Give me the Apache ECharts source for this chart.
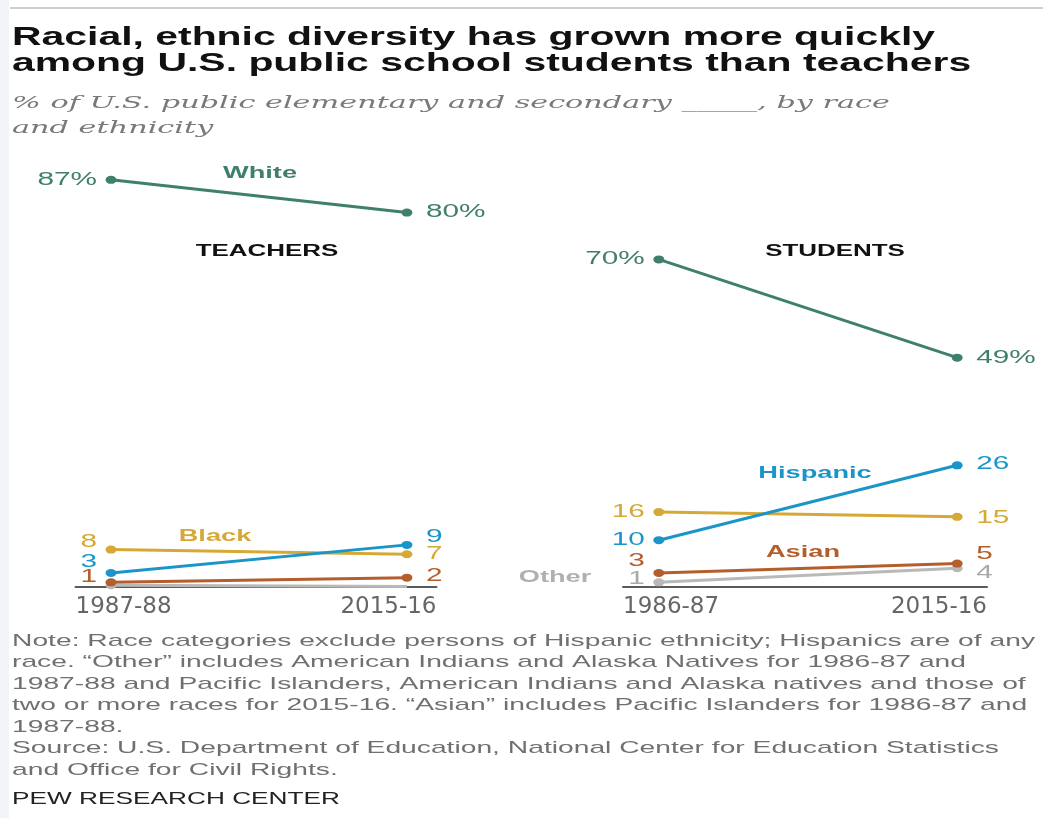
<!DOCTYPE html>
<html>
<head>
<meta charset="utf-8">
</head>
<body style="margin: 0; background: #fff">
<div id="container" style="width: 1043px; height: 818px"></div>
<script src="https://cdn.jsdelivr.net/npm/echarts@6/dist/echarts.min.js"></script>
<script>
// years on the two panels
var teacherYears = ['1987-88', '2015-16'];
var studentYears = ['1986-87', '2015-16'];
var groups = ['White', 'Black', 'Hispanic', 'Asian', 'Other'];

// % of teachers
var teacherWhite = [87, 80];
var teacherBlack = [8, 7];
var teacherHispanic = [3, 9];
var teacherAsian = [1, 2];
var teacherOther = [0.4, 0.1];

// % of students
var studentWhite = [70, 49];
var studentBlack = [16, 15];
var studentHispanic = [10, 26];
var studentAsian = [3, 5];
var studentOther = [1, 4];

var colors = {
  White: '#3f7f6d',
  Black: '#d6a936',
  Hispanic: '#1b95c9',
  Asian: '#b35e2c',
  Other: '#b9b9b9'
};

var chart = echarts.init(document.getElementById('container'));

// the reference is stretched horizontally, text gets scaled to match
var STRETCH = 1.7;
var measure = document.createElement('canvas').getContext('2d');
function fit(text, font, width) {
  measure.font = font;
  return width / measure.measureText(text).width;
}

function txt(text, x, y, font, color, scale, align) {
  return {
    type: 'text', x: x, y: y, scaleX: scale, silent: true,
    style: { text: text, font: font, fill: color, align: align || 'left', verticalAlign: 'middle' }
  };
}

var teacherData = { White: teacherWhite, Black: teacherBlack, Hispanic: teacherHispanic, Asian: teacherAsian, Other: teacherOther };
var studentData = { White: studentWhite, Black: studentBlack, Hispanic: studentHispanic, Asian: studentAsian, Other: studentOther };

// label nudges (px) where labels would collide
var teacherDy = [
  { Black: -7, Hispanic: -11, Asian: -5 },
  { Hispanic: -8, Black: 0, Asian: -1 }
];
var studentDy = [
  { Asian: -12, Other: -3 },
  { Hispanic: -1, Black: 1, Asian: -9, Other: 5 }
];

function buildLabels(data, dy, skip) {
  var out = [];
  groups.forEach(function (g) {
    if (skip.indexOf(g) >= 0) return;
    [0, 1].forEach(function (j) {
      var v = data[g][j];
      out.push({
        x: j, v: v,
        text: g === 'White' ? v + '%' : String(v),
        color: g === 'Other' ? '#a9a9a9' : colors[g],
        dy: dy[j][g] || 0
      });
    });
  });
  return out;
}

function lineSeries(gi, data) {
  // drawn bottom-up so Hispanic and White sit on top
  return ['Other', 'Asian', 'Black', 'Hispanic', 'White'].map(function (g) {
    var pts = [[0, data[g][0]], [1, data[g][1]]];
    if (gi === 0 && g === 'Other') pts[1] = { value: pts[1], symbol: 'none' };
    return {
      name: g, type: 'line', xAxisIndex: gi, yAxisIndex: gi,
      data: pts, symbol: 'circle', symbolSize: [11, 8],
      lineStyle: { width: 3, color: colors[g] },
      itemStyle: { color: colors[g] },
      silent: true, z: 3
    };
  });
}

function labelSeries(gi, items) {
  return {
    type: 'custom', xAxisIndex: gi, yAxisIndex: gi, clip: false, silent: true, z: 5,
    data: items.map(function (d) { return [d.x, d.v]; }),
    renderItem: function (params, api) {
      var d = items[params.dataIndex];
      var p = api.coord([api.value(0), api.value(1)]);
      var left = d.x === 0;
      return {
        type: 'text',
        x: p[0] + (left ? -14 : 19),
        y: p[1] + d.dy,
        scaleX: STRETCH,
        style: {
          text: d.text, fill: d.color, font: '17.5px "Liberation Sans"',
          align: left ? 'right' : 'left', verticalAlign: 'middle'
        }
      };
    }
  };
}

function xAxis(gi, years) {
  return {
    type: 'value', gridIndex: gi, min: -0.12, max: 1.1,
    splitLine: { show: false },
    axisTick: { show: false },
    axisLine: { show: true, lineStyle: { color: '#5a5a5a', width: 2 } },
    axisLabel: {
      customValues: [-0.12, 1.1],
      alignMinLabel: 'left', alignMaxLabel: 'right',
      formatter: function (v) { return v < 0.5 ? years[0] : years[1]; },
      fontFamily: 'DejaVu Sans', fontSize: 23, color: '#666', margin: 9
    }
  };
}

var titleFont = 'bold 25px "Liberation Sans"';
var titleScale = fit('Racial, ethnic diversity has grown more quickly', titleFont, 923);
var subFont = 'italic 17px "DejaVu Serif"';
var subScale = fit('% of U.S. public elementary and secondary _____, by race', subFont, 878);
var noteFont = '17px "Liberation Sans"';
var noteLines = [
  'Note: Race categories exclude persons of Hispanic ethnicity; Hispanics are of any',
  'race. \u201cOther\u201d includes American Indians and Alaska Natives for 1986-87 and',
  '1987-88 and Pacific Islanders, American Indians and Alaska natives and those of',
  'two or more races for 2015-16. \u201cAsian\u201d includes Pacific Islanders for 1986-87 and',
  '1987-88.',
  'Source: U.S. Department of Education, National Center for Education Statistics',
  'and Office for Civil Rights.'
];
var noteScale = fit(noteLines[0], noteFont, 1023);
var pewFont = '17px "Liberation Sans"';
var pewScale = fit('PEW RESEARCH CENTER', pewFont, 328);
var tagFont = 'bold 16px "Liberation Sans"';

var graphics = [
  { type: 'rect', shape: { x: 0, y: 0, width: 9, height: 818 }, style: { fill: '#f2f4f7' }, silent: true },
  { type: 'line', shape: { x1: 10, y1: 8, x2: 1043, y2: 8 }, style: { stroke: '#cfcfcf', lineWidth: 2 }, silent: true },
  txt('Racial, ethnic diversity has grown more quickly', 12, 38, titleFont, '#111', titleScale),
  txt('among U.S. public school students than teachers', 12, 64, titleFont, '#111', titleScale),
  txt('% of U.S. public elementary and secondary _____, by race', 12, 104, subFont, '#7a7a7a', subScale),
  txt('and ethnicity', 12, 129, subFont, '#7a7a7a', subScale),
  txt('TEACHERS', 267, 252, tagFont, '#111', 1.62, 'center'),
  txt('STUDENTS', 835, 252, tagFont, '#111', 1.62, 'center'),
  txt('White', 260, 174, tagFont, colors.White, STRETCH, 'center'),
  txt('Black', 215, 537, tagFont, colors.Black, STRETCH, 'center'),
  txt('Hispanic', 815, 474, tagFont, colors.Hispanic, STRETCH, 'center'),
  txt('Asian', 803, 553, tagFont, colors.Asian, STRETCH, 'center'),
  txt('Other', 555, 578, tagFont, '#b0b0b0', STRETCH, 'center'),
  txt('PEW RESEARCH CENTER', 12, 799, pewFont, '#222', pewScale)
];
noteLines.forEach(function (line, i) {
  graphics.push(txt(line, 12, 641 + i * 21.5, noteFont, '#707070', noteScale));
});

var option = {
  animation: false,
  backgroundColor: '#fff',
  grid: [
    { left: 75.5, width: 361, top: 119, height: 468 },
    { left: 623, width: 364, top: 119, height: 468 }
  ],
  xAxis: [xAxis(0, teacherYears), xAxis(1, studentYears)],
  yAxis: [
    { type: 'value', gridIndex: 0, min: 0, max: 100, show: false },
    { type: 'value', gridIndex: 1, min: 0, max: 100, show: false }
  ],
  series: []
    .concat(lineSeries(0, teacherData))
    .concat(lineSeries(1, studentData))
    .concat([
      labelSeries(0, buildLabels(teacherData, teacherDy, ['Other'])),
      labelSeries(1, buildLabels(studentData, studentDy, []))
    ]),
  graphic: graphics
};

chart.setOption(option);
</script>
</body>
</html>
